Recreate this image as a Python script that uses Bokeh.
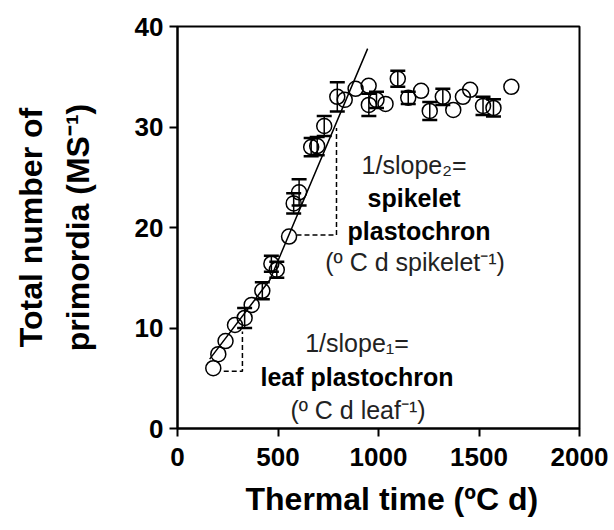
from bokeh.plotting import figure
from bokeh.models import ColumnDataSource, Whisker, TeeHead, Title, FixedTicker, Range1d
from bokeh.embed import file_html
from bokeh.resources import INLINE
from bokeh.core.properties import value

# ---- data ----
thermal_time = [178, 203, 239, 286, 334, 369, 422, 467, 494, 555, 578, 605, 665, 695, 730,
                795, 832, 886, 951, 952, 990, 1035, 1096, 1148, 1212, 1255, 1320, 1372,
                1420, 1456, 1520, 1572, 1661]
primordia = [6.0, 7.4, 8.7, 10.3, 11.0, 12.3, 13.7, 16.4, 15.8, 19.1, 22.4, 23.5, 28.0, 28.1, 30.1,
             33.0, 32.7, 33.8, 34.1, 32.2, 32.7, 32.3, 34.8, 32.9, 33.6, 31.6, 33.0, 31.7,
             33.0, 33.7, 32.1, 31.9, 34.0]
sem = [0, 0, 0, 0, 1.0, 0, 0.85, 0.8, 0.8, 0, 1.0, 1.3, 0.9, 0.9, 1.0,
       1.45, 0, 0, 0, 1.1, 0.8, 0, 0.8, 0.6, 0, 0.9, 0.8, 0,
       0, 0, 0.9, 0.85, 0]

# bilinear fit (leaf phase, spikelet phase)
fit_x = [160, 460, 946]
fit_y = [6.9, 14.8, 37.8]

# dashed slope triangles
leaf_tri_x = [230, 323, 323]
leaf_tri_y = [5.7, 5.7, 9.65]
spk_tri_x = [592, 791, 791]
spk_tri_y = [19.25, 19.25, 29.9]

x_ticks = [0, 500, 1000, 1500, 2000]
y_ticks = [0, 10, 20, 30, 40]

# annotation texts
reg_text = ["1/slope\u2082=", "(\u00ba C d spikelet\u207b\u00b9)", "1/slope\u2081=", "(\u00ba C d leaf\u207b\u00b9)"]
reg_x = [1177, 1182, 893, 898]
reg_y = [26.2, 16.6, 8.5, 1.8]
bold_text = ["spikelet", "plastochron", "leaf plastochron"]
bold_x = [1177, 1202, 893]
bold_y = [22.9, 19.7, 5.1]

FONT = "Liberation Sans"

p = figure(width=614, height=530, x_range=Range1d(0, 2000), y_range=Range1d(0, 40),
           output_backend="svg", toolbar_location=None,
           min_border_left=177, min_border_right=35, min_border_top=26, min_border_bottom=102)
p.grid.visible = False
p.outline_line_color = "black"
p.outline_line_width = 2
p.background_fill_color = "white"
p.border_fill_color = "white"

for ax in (p.xaxis[0], p.yaxis[0]):
    ax.axis_line_width = 2
    ax.major_tick_line_width = 2
    ax.major_tick_out = 8
    ax.major_tick_in = 0
    ax.minor_tick_out = 0
    ax.minor_tick_in = 0
    ax.major_label_text_font = FONT
    ax.major_label_text_font_size = "26px"
    ax.major_label_text_font_style = "bold"
    ax.major_label_text_color = "black"
p.xaxis.ticker = FixedTicker(ticks=x_ticks)
p.yaxis.ticker = FixedTicker(ticks=y_ticks)
p.xaxis.major_label_standoff = 11
p.yaxis.major_label_standoff = 6

p.yaxis.axis_label = "primordia (MS\u207b\u00b9)"
p.yaxis.axis_label_standoff = 36
p.yaxis.axis_label_text_font = FONT
p.yaxis.axis_label_text_font_size = "32px"
p.yaxis.axis_label_text_font_style = "bold"
p.yaxis.axis_label_text_color = "black"

t_x = Title(text="Thermal time (\u00baC d)", align="left", offset=68, standoff=20,
            text_font=FONT, text_font_size="32px", text_font_style="bold", text_color="black")
p.add_layout(t_x, "below")
t_y1 = Title(text="Total number of", align="center", standoff=16,
             text_font=FONT, text_font_size="32px", text_font_style="bold", text_color="black")
p.add_layout(t_y1, "left")

# fit line and slope triangles
p.line(fit_x, fit_y, line_color="black", line_width=1.5)
p.line(leaf_tri_x, leaf_tri_y, line_color="black", line_width=1.5, line_dash="5 3")
p.line(spk_tri_x, spk_tri_y, line_color="black", line_width=1.5, line_dash="5 3")

# error bars
eb = [(x, y, e) for x, y, e in zip(thermal_time, primordia, sem) if e > 0]
err_src = ColumnDataSource(dict(base=[a[0] for a in eb],
                                upper=[a[1] + a[2] for a in eb],
                                lower=[a[1] - a[2] for a in eb]))
p.add_layout(Whisker(base="base", upper="upper", lower="lower", source=err_src,
                     dimension="height", line_color="black", line_width=1.5,
                     upper_head=TeeHead(size=15, line_width=2.5, line_color="black"),
                     lower_head=TeeHead(size=15, line_width=2.5, line_color="black")))

# data points
p.scatter(thermal_time, primordia, marker="circle", size=15, fill_color=None,
          line_color="black", line_width=1.5)

# annotations
p.text(reg_x, reg_y, text=reg_text, text_font=value(FONT), text_font_size=value("25px"),
       text_align="center", text_baseline="middle", text_color="#222222")
p.text(bold_x, bold_y, text=bold_text, text_font=value(FONT), text_font_size=value("25px"),
       text_font_style="bold", text_align="center", text_baseline="middle", text_color="black")

with open("out.html", "w", encoding="utf-8") as f:
    f.write(file_html(p, INLINE))
